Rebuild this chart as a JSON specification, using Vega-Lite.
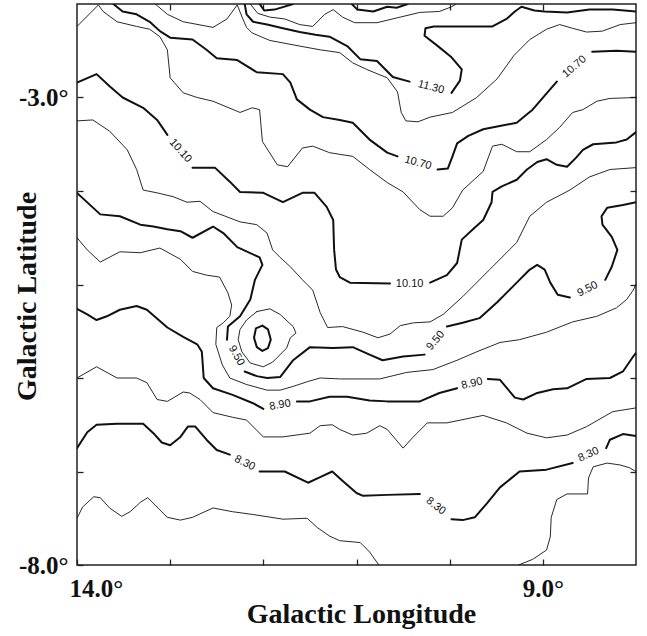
{
"$schema": "https://vega.github.io/schema/vega-lite/v6.json",
"width": 559, "height": 561,
"autosize": {"type": "none"},
"padding": {"left": 77, "top": 4, "right": 11, "bottom": 71},
"background": "white",
"config": {
  "view": {"stroke": "#222", "strokeWidth": 1.5},
  "axis": {"grid": false, "domain": false, "tickColor": "#222", "tickSize": -6, "tickWidth": 1.3}
},
"data": {"values": [
{"s":"A","i":0,"x":14.00,"y":-7.50,"k":"minor"},{"s":"A","i":1,"x":13.94,"y":-7.38,"k":"minor"},{"s":"A","i":2,"x":13.82,"y":-7.27,"k":"minor"},{"s":"A","i":3,"x":13.75,"y":-7.28,"k":"minor"},{"s":"A","i":4,"x":13.65,"y":-7.39,"k":"minor"},{"s":"A","i":5,"x":13.52,"y":-7.48,"k":"minor"},{"s":"A","i":6,"x":13.43,"y":-7.43,"k":"minor"},{"s":"A","i":7,"x":13.32,"y":-7.33,"k":"minor"},{"s":"A","i":8,"x":13.24,"y":-7.28,"k":"minor"},{"s":"A","i":9,"x":13.14,"y":-7.38,"k":"minor"},{"s":"A","i":10,"x":13.03,"y":-7.49,"k":"minor"},{"s":"A","i":11,"x":12.89,"y":-7.52,"k":"minor"},{"s":"A","i":12,"x":12.76,"y":-7.49,"k":"minor"},{"s":"A","i":13,"x":12.54,"y":-7.39,"k":"minor"},{"s":"A","i":14,"x":12.33,"y":-7.43,"k":"minor"},{"s":"A","i":15,"x":12.11,"y":-7.46,"k":"minor"},{"s":"A","i":16,"x":11.79,"y":-7.51,"k":"minor"},{"s":"A","i":17,"x":11.53,"y":-7.50,"k":"minor"},{"s":"A","i":18,"x":11.42,"y":-7.60,"k":"minor"},{"s":"A","i":19,"x":11.29,"y":-7.69,"k":"minor"},{"s":"A","i":20,"x":11.18,"y":-7.74,"k":"minor"},{"s":"A","i":21,"x":10.96,"y":-7.76,"k":"minor"},{"s":"A","i":22,"x":10.86,"y":-7.86,"k":"minor"},{"s":"A","i":23,"x":10.76,"y":-8.00,"k":"minor"},
{"s":"B","i":0,"x":9.26,"y":-8.00,"k":"minor"},{"s":"B","i":1,"x":9.11,"y":-7.94,"k":"minor"},{"s":"B","i":2,"x":8.96,"y":-7.84,"k":"minor"},{"s":"B","i":3,"x":8.92,"y":-7.70,"k":"minor"},{"s":"B","i":4,"x":8.91,"y":-7.49,"k":"minor"},{"s":"B","i":5,"x":8.85,"y":-7.30,"k":"minor"},{"s":"B","i":6,"x":8.74,"y":-7.24,"k":"minor"},{"s":"B","i":7,"x":8.52,"y":-7.24,"k":"minor"},{"s":"B","i":8,"x":8.51,"y":-7.07,"k":"minor"},{"s":"B","i":9,"x":8.46,"y":-6.95,"k":"minor"},{"s":"B","i":10,"x":8.31,"y":-6.91,"k":"minor"},{"s":"B","i":11,"x":8.17,"y":-6.93,"k":"minor"},{"s":"B","i":12,"x":8.07,"y":-6.96,"k":"minor"},{"s":"B","i":13,"x":8.00,"y":-7.00,"k":"minor"},
{"s":"C1","i":0,"x":14.00,"y":-6.75,"k":"major"},{"s":"C1","i":1,"x":13.89,"y":-6.58,"k":"major"},{"s":"C1","i":2,"x":13.79,"y":-6.50,"k":"major"},{"s":"C1","i":3,"x":13.57,"y":-6.49,"k":"major"},{"s":"C1","i":4,"x":13.29,"y":-6.49,"k":"major"},{"s":"C1","i":5,"x":13.18,"y":-6.59,"k":"major"},{"s":"C1","i":6,"x":13.09,"y":-6.69,"k":"major"},{"s":"C1","i":7,"x":13.00,"y":-6.72,"k":"major"},{"s":"C1","i":8,"x":12.89,"y":-6.63,"k":"major"},{"s":"C1","i":9,"x":12.81,"y":-6.52,"k":"major"},{"s":"C1","i":10,"x":12.73,"y":-6.52,"k":"major"},{"s":"C1","i":11,"x":12.61,"y":-6.66,"k":"major"},{"s":"C1","i":12,"x":12.50,"y":-6.77,"k":"major"},{"s":"C1","i":13,"x":12.36,"y":-6.82,"k":"major"},
{"s":"C2","i":0,"x":12.04,"y":-7.00,"k":"major"},{"s":"C2","i":1,"x":11.77,"y":-7.00,"k":"major"},{"s":"C2","i":2,"x":11.52,"y":-7.12,"k":"major"},{"s":"C2","i":3,"x":11.39,"y":-7.06,"k":"major"},{"s":"C2","i":4,"x":11.26,"y":-7.00,"k":"major"},{"s":"C2","i":5,"x":11.16,"y":-7.09,"k":"major"},{"s":"C2","i":6,"x":11.00,"y":-7.23,"k":"major"},{"s":"C2","i":7,"x":10.93,"y":-7.26,"k":"major"},{"s":"C2","i":8,"x":10.67,"y":-7.25,"k":"major"},{"s":"C2","i":9,"x":10.32,"y":-7.24,"k":"major"},
{"s":"C3","i":0,"x":9.98,"y":-7.51,"k":"major"},{"s":"C3","i":1,"x":9.86,"y":-7.52,"k":"major"},{"s":"C3","i":2,"x":9.73,"y":-7.49,"k":"major"},{"s":"C3","i":3,"x":9.60,"y":-7.34,"k":"major"},{"s":"C3","i":4,"x":9.46,"y":-7.17,"k":"major"},{"s":"C3","i":5,"x":9.25,"y":-7.00,"k":"major"},{"s":"C3","i":6,"x":8.96,"y":-6.98,"k":"major"},{"s":"C3","i":7,"x":8.68,"y":-6.91,"k":"major"},
{"s":"C4","i":0,"x":8.32,"y":-6.75,"k":"major"},{"s":"C4","i":1,"x":8.28,"y":-6.66,"k":"major"},{"s":"C4","i":2,"x":8.14,"y":-6.60,"k":"major"},{"s":"C4","i":3,"x":8.00,"y":-6.62,"k":"major"},
{"s":"D","i":0,"x":14.00,"y":-6.00,"k":"minor"},{"s":"D","i":1,"x":13.79,"y":-5.88,"k":"minor"},{"s":"D","i":2,"x":13.57,"y":-6.00,"k":"minor"},{"s":"D","i":3,"x":13.36,"y":-6.00,"k":"minor"},{"s":"D","i":4,"x":13.25,"y":-6.05,"k":"minor"},{"s":"D","i":5,"x":13.14,"y":-6.23,"k":"minor"},{"s":"D","i":6,"x":13.03,"y":-6.25,"k":"minor"},{"s":"D","i":7,"x":12.86,"y":-6.15,"k":"minor"},{"s":"D","i":8,"x":12.79,"y":-6.16,"k":"minor"},{"s":"D","i":9,"x":12.68,"y":-6.23,"k":"minor"},{"s":"D","i":10,"x":12.54,"y":-6.37,"k":"minor"},{"s":"D","i":11,"x":12.33,"y":-6.42,"k":"minor"},{"s":"D","i":12,"x":12.18,"y":-6.45,"k":"minor"},{"s":"D","i":13,"x":12.00,"y":-6.63,"k":"minor"},{"s":"D","i":14,"x":11.79,"y":-6.63,"k":"minor"},{"s":"D","i":15,"x":11.50,"y":-6.59,"k":"minor"},{"s":"D","i":16,"x":11.39,"y":-6.51,"k":"minor"},{"s":"D","i":17,"x":11.26,"y":-6.50,"k":"minor"},{"s":"D","i":18,"x":11.18,"y":-6.55,"k":"minor"},{"s":"D","i":19,"x":11.04,"y":-6.61,"k":"minor"},{"s":"D","i":20,"x":10.89,"y":-6.59,"k":"minor"},{"s":"D","i":21,"x":10.75,"y":-6.51,"k":"minor"},{"s":"D","i":22,"x":10.67,"y":-6.55,"k":"minor"},{"s":"D","i":23,"x":10.50,"y":-6.75,"k":"minor"},{"s":"D","i":24,"x":10.39,"y":-6.63,"k":"minor"},{"s":"D","i":25,"x":10.24,"y":-6.48,"k":"minor"},{"s":"D","i":26,"x":10.03,"y":-6.48,"k":"minor"},{"s":"D","i":27,"x":9.64,"y":-6.40,"k":"minor"},{"s":"D","i":28,"x":9.39,"y":-6.48,"k":"minor"},{"s":"D","i":29,"x":9.17,"y":-6.59,"k":"minor"},{"s":"D","i":30,"x":8.96,"y":-6.64,"k":"minor"},{"s":"D","i":31,"x":8.74,"y":-6.61,"k":"minor"},{"s":"D","i":32,"x":8.53,"y":-6.52,"k":"minor"},{"s":"D","i":33,"x":8.25,"y":-6.36,"k":"minor"},{"s":"D","i":34,"x":8.00,"y":-6.32,"k":"minor"},
{"s":"E1","i":0,"x":14.00,"y":-5.26,"k":"major"},{"s":"E1","i":1,"x":13.89,"y":-5.32,"k":"major"},{"s":"E1","i":2,"x":13.79,"y":-5.38,"k":"major"},{"s":"E1","i":3,"x":13.68,"y":-5.34,"k":"major"},{"s":"E1","i":4,"x":13.54,"y":-5.27,"k":"major"},{"s":"E1","i":5,"x":13.36,"y":-5.23,"k":"major"},{"s":"E1","i":6,"x":13.25,"y":-5.27,"k":"major"},{"s":"E1","i":7,"x":13.03,"y":-5.46,"k":"major"},{"s":"E1","i":8,"x":12.86,"y":-5.56,"k":"major"},{"s":"E1","i":9,"x":12.71,"y":-5.64,"k":"major"},{"s":"E1","i":10,"x":12.66,"y":-5.72,"k":"major"},{"s":"E1","i":11,"x":12.64,"y":-6.00,"k":"major"},{"s":"E1","i":12,"x":12.54,"y":-6.11,"k":"major"},{"s":"E1","i":13,"x":12.33,"y":-6.18,"k":"major"},{"s":"E1","i":14,"x":12.11,"y":-6.27,"k":"major"},{"s":"E1","i":15,"x":12.00,"y":-6.33,"k":"major"},
{"s":"E2","i":0,"x":11.64,"y":-6.25,"k":"major"},{"s":"E2","i":1,"x":11.50,"y":-6.25,"k":"major"},{"s":"E2","i":2,"x":11.29,"y":-6.20,"k":"major"},{"s":"E2","i":3,"x":11.10,"y":-6.20,"k":"major"},{"s":"E2","i":4,"x":10.86,"y":-6.24,"k":"major"},{"s":"E2","i":5,"x":10.67,"y":-6.25,"k":"major"},{"s":"E2","i":6,"x":10.32,"y":-6.25,"k":"major"},{"s":"E2","i":7,"x":10.11,"y":-6.16,"k":"major"},{"s":"E2","i":8,"x":9.92,"y":-6.11,"k":"major"},
{"s":"E3","i":0,"x":9.59,"y":-6.01,"k":"major"},{"s":"E3","i":1,"x":9.46,"y":-6.02,"k":"major"},{"s":"E3","i":2,"x":9.30,"y":-6.21,"k":"major"},{"s":"E3","i":3,"x":9.21,"y":-6.23,"k":"major"},{"s":"E3","i":4,"x":9.06,"y":-6.16,"k":"major"},{"s":"E3","i":5,"x":8.89,"y":-6.12,"k":"major"},{"s":"E3","i":6,"x":8.74,"y":-6.11,"k":"major"},{"s":"E3","i":7,"x":8.53,"y":-6.01,"k":"major"},{"s":"E3","i":8,"x":8.28,"y":-6.00,"k":"major"},{"s":"E3","i":9,"x":8.14,"y":-5.93,"k":"major"},{"s":"E3","i":10,"x":8.03,"y":-5.77,"k":"major"},{"s":"E3","i":11,"x":8.00,"y":-5.73,"k":"major"},
{"s":"F","i":0,"x":14.00,"y":-4.50,"k":"minor"},{"s":"F","i":1,"x":13.89,"y":-4.63,"k":"minor"},{"s":"F","i":2,"x":13.75,"y":-4.76,"k":"minor"},{"s":"F","i":3,"x":13.54,"y":-4.65,"k":"minor"},{"s":"F","i":4,"x":13.32,"y":-4.66,"k":"minor"},{"s":"F","i":5,"x":13.11,"y":-4.61,"k":"minor"},{"s":"F","i":6,"x":12.89,"y":-4.73,"k":"minor"},{"s":"F","i":7,"x":12.76,"y":-4.86,"k":"minor"},{"s":"F","i":8,"x":12.61,"y":-4.90,"k":"minor"},{"s":"F","i":9,"x":12.47,"y":-4.92,"k":"minor"},{"s":"F","i":10,"x":12.38,"y":-5.09,"k":"minor"},{"s":"F","i":11,"x":12.34,"y":-5.22,"k":"minor"},{"s":"F","i":12,"x":12.36,"y":-5.34,"k":"minor"},{"s":"F","i":13,"x":12.43,"y":-5.41,"k":"minor"},{"s":"F","i":14,"x":12.50,"y":-5.46,"k":"minor"},{"s":"F","i":15,"x":12.51,"y":-5.64,"k":"minor"},{"s":"F","i":16,"x":12.44,"y":-5.86,"k":"minor"},{"s":"F","i":17,"x":12.36,"y":-6.00,"k":"minor"},{"s":"F","i":18,"x":12.18,"y":-6.07,"k":"minor"},{"s":"F","i":19,"x":11.96,"y":-6.13,"k":"minor"},{"s":"F","i":20,"x":11.82,"y":-6.13,"k":"minor"},{"s":"F","i":21,"x":11.68,"y":-6.09,"k":"minor"},{"s":"F","i":22,"x":11.53,"y":-6.04,"k":"minor"},{"s":"F","i":23,"x":11.39,"y":-6.00,"k":"minor"},{"s":"F","i":24,"x":11.18,"y":-6.01,"k":"minor"},{"s":"F","i":25,"x":10.75,"y":-6.01,"k":"minor"},{"s":"F","i":26,"x":10.46,"y":-5.94,"k":"minor"},{"s":"F","i":27,"x":10.18,"y":-5.91,"k":"minor"},{"s":"F","i":28,"x":9.92,"y":-5.81,"k":"minor"},{"s":"F","i":29,"x":9.71,"y":-5.72,"k":"minor"},{"s":"F","i":30,"x":9.46,"y":-5.62,"k":"minor"},{"s":"F","i":31,"x":9.25,"y":-5.59,"k":"minor"},{"s":"F","i":32,"x":8.96,"y":-5.51,"k":"minor"},{"s":"F","i":33,"x":8.68,"y":-5.40,"k":"minor"},{"s":"F","i":34,"x":8.42,"y":-5.34,"k":"minor"},{"s":"F","i":35,"x":8.21,"y":-5.25,"k":"minor"},{"s":"F","i":36,"x":8.10,"y":-5.16,"k":"minor"},{"s":"F","i":37,"x":8.03,"y":-5.06,"k":"minor"},{"s":"F","i":38,"x":8.00,"y":-5.00,"k":"minor"},
{"s":"G1","i":0,"x":14.00,"y":-4.02,"k":"major"},{"s":"G1","i":1,"x":13.75,"y":-4.25,"k":"major"},{"s":"G1","i":2,"x":13.54,"y":-4.27,"k":"major"},{"s":"G1","i":3,"x":13.32,"y":-4.36,"k":"major"},{"s":"G1","i":4,"x":13.18,"y":-4.38,"k":"major"},{"s":"G1","i":5,"x":13.03,"y":-4.41,"k":"major"},{"s":"G1","i":6,"x":12.89,"y":-4.43,"k":"major"},{"s":"G1","i":7,"x":12.76,"y":-4.50,"k":"major"},{"s":"G1","i":8,"x":12.54,"y":-4.38,"k":"major"},{"s":"G1","i":9,"x":12.43,"y":-4.45,"k":"major"},{"s":"G1","i":10,"x":12.28,"y":-4.60,"k":"major"},{"s":"G1","i":11,"x":12.04,"y":-4.71,"k":"major"},{"s":"G1","i":12,"x":12.01,"y":-4.79,"k":"major"},{"s":"G1","i":13,"x":12.09,"y":-4.95,"k":"major"},{"s":"G1","i":14,"x":12.14,"y":-5.16,"k":"major"},{"s":"G1","i":15,"x":12.25,"y":-5.34,"k":"major"},{"s":"G1","i":16,"x":12.38,"y":-5.45,"k":"major"},{"s":"G1","i":17,"x":12.39,"y":-5.59,"k":"major"},
{"s":"G2","i":0,"x":12.20,"y":-5.93,"k":"major"},{"s":"G2","i":1,"x":12.07,"y":-5.98,"k":"major"},{"s":"G2","i":2,"x":11.96,"y":-6.00,"k":"major"},{"s":"G2","i":3,"x":11.82,"y":-5.99,"k":"major"},{"s":"G2","i":4,"x":11.68,"y":-5.81,"k":"major"},{"s":"G2","i":5,"x":11.50,"y":-5.67,"k":"major"},{"s":"G2","i":6,"x":11.25,"y":-5.68,"k":"major"},{"s":"G2","i":7,"x":11.04,"y":-5.67,"k":"major"},{"s":"G2","i":8,"x":10.86,"y":-5.75,"k":"major"},{"s":"G2","i":9,"x":10.72,"y":-5.81,"k":"major"},{"s":"G2","i":10,"x":10.50,"y":-5.77,"k":"major"},{"s":"G2","i":11,"x":10.27,"y":-5.75,"k":"major"},
{"s":"G3","i":0,"x":10.03,"y":-5.45,"k":"major"},{"s":"G3","i":1,"x":9.86,"y":-5.41,"k":"major"},{"s":"G3","i":2,"x":9.68,"y":-5.36,"k":"major"},{"s":"G3","i":3,"x":9.49,"y":-5.19,"k":"major"},{"s":"G3","i":4,"x":9.39,"y":-5.09,"k":"major"},{"s":"G3","i":5,"x":9.28,"y":-4.98,"k":"major"},{"s":"G3","i":6,"x":9.14,"y":-4.84,"k":"major"},{"s":"G3","i":7,"x":9.06,"y":-4.79,"k":"major"},{"s":"G3","i":8,"x":8.98,"y":-4.84,"k":"major"},{"s":"G3","i":9,"x":8.92,"y":-4.98,"k":"major"},{"s":"G3","i":10,"x":8.84,"y":-5.11,"k":"major"},{"s":"G3","i":11,"x":8.71,"y":-5.14,"k":"major"},
{"s":"G4","i":0,"x":8.33,"y":-4.95,"k":"major"},{"s":"G4","i":1,"x":8.26,"y":-4.81,"k":"major"},{"s":"G4","i":2,"x":8.20,"y":-4.63,"k":"major"},{"s":"G4","i":3,"x":8.26,"y":-4.49,"k":"major"},{"s":"G4","i":4,"x":8.36,"y":-4.36,"k":"major"},{"s":"G4","i":5,"x":8.37,"y":-4.27,"k":"major"},{"s":"G4","i":6,"x":8.31,"y":-4.18,"k":"major"},{"s":"G4","i":7,"x":8.14,"y":-4.15,"k":"major"},{"s":"G4","i":8,"x":8.00,"y":-4.12,"k":"major"},
{"s":"H","i":0,"x":12.07,"y":-5.29,"k":"minor"},{"s":"H","i":1,"x":11.93,"y":-5.26,"k":"minor"},{"s":"H","i":2,"x":11.82,"y":-5.32,"k":"minor"},{"s":"H","i":3,"x":11.68,"y":-5.45,"k":"minor"},{"s":"H","i":4,"x":11.65,"y":-5.52,"k":"minor"},{"s":"H","i":5,"x":11.71,"y":-5.57,"k":"minor"},{"s":"H","i":6,"x":11.75,"y":-5.68,"k":"minor"},{"s":"H","i":7,"x":11.90,"y":-5.83,"k":"minor"},{"s":"H","i":8,"x":12.00,"y":-5.88,"k":"minor"},{"s":"H","i":9,"x":12.14,"y":-5.84,"k":"minor"},{"s":"H","i":10,"x":12.23,"y":-5.72,"k":"minor"},{"s":"H","i":11,"x":12.27,"y":-5.59,"k":"minor"},{"s":"H","i":12,"x":12.25,"y":-5.48,"k":"minor"},{"s":"H","i":13,"x":12.18,"y":-5.38,"k":"minor"},{"s":"H","i":14,"x":12.07,"y":-5.29,"k":"minor"},
{"s":"I","i":0,"x":12.01,"y":-5.44,"k":"major"},{"s":"I","i":1,"x":11.95,"y":-5.48,"k":"major"},{"s":"I","i":2,"x":11.92,"y":-5.59,"k":"major"},{"s":"I","i":3,"x":11.95,"y":-5.68,"k":"major"},{"s":"I","i":4,"x":12.01,"y":-5.71,"k":"major"},{"s":"I","i":5,"x":12.07,"y":-5.67,"k":"major"},{"s":"I","i":6,"x":12.10,"y":-5.57,"k":"major"},{"s":"I","i":7,"x":12.08,"y":-5.47,"k":"major"},{"s":"I","i":8,"x":12.01,"y":-5.44,"k":"major"},
{"s":"J","i":0,"x":14.00,"y":-3.25,"k":"minor"},{"s":"J","i":1,"x":13.83,"y":-3.24,"k":"minor"},{"s":"J","i":2,"x":13.65,"y":-3.36,"k":"minor"},{"s":"J","i":3,"x":13.46,"y":-3.56,"k":"minor"},{"s":"J","i":4,"x":13.36,"y":-3.77,"k":"minor"},{"s":"J","i":5,"x":13.29,"y":-3.99,"k":"minor"},{"s":"J","i":6,"x":13.14,"y":-4.02,"k":"minor"},{"s":"J","i":7,"x":12.97,"y":-4.06,"k":"minor"},{"s":"J","i":8,"x":12.82,"y":-4.12,"k":"minor"},{"s":"J","i":9,"x":12.68,"y":-4.11,"k":"minor"},{"s":"J","i":10,"x":12.54,"y":-4.22,"k":"minor"},{"s":"J","i":11,"x":12.25,"y":-4.33,"k":"minor"},{"s":"J","i":12,"x":12.07,"y":-4.36,"k":"minor"},{"s":"J","i":13,"x":11.96,"y":-4.45,"k":"minor"},{"s":"J","i":14,"x":11.90,"y":-4.63,"k":"minor"},{"s":"J","i":15,"x":11.82,"y":-4.71,"k":"minor"},{"s":"J","i":16,"x":11.71,"y":-4.81,"k":"minor"},{"s":"J","i":17,"x":11.58,"y":-4.95,"k":"minor"},{"s":"J","i":18,"x":11.47,"y":-5.06,"k":"minor"},{"s":"J","i":19,"x":11.39,"y":-5.30,"k":"minor"},{"s":"J","i":20,"x":11.31,"y":-5.46,"k":"minor"},{"s":"J","i":21,"x":11.15,"y":-5.45,"k":"minor"},{"s":"J","i":22,"x":10.93,"y":-5.51,"k":"minor"},{"s":"J","i":23,"x":10.77,"y":-5.57,"k":"minor"},{"s":"J","i":24,"x":10.64,"y":-5.53,"k":"minor"},{"s":"J","i":25,"x":10.53,"y":-5.44,"k":"minor"},{"s":"J","i":26,"x":10.39,"y":-5.41,"k":"minor"},{"s":"J","i":27,"x":10.21,"y":-5.40,"k":"minor"},{"s":"J","i":28,"x":10.07,"y":-5.32,"k":"minor"},{"s":"J","i":29,"x":9.86,"y":-5.13,"k":"minor"},{"s":"J","i":30,"x":9.57,"y":-4.84,"k":"minor"},{"s":"J","i":31,"x":9.28,"y":-4.55,"k":"minor"},{"s":"J","i":32,"x":9.14,"y":-4.27,"k":"minor"},{"s":"J","i":33,"x":8.96,"y":-4.12,"k":"minor"},{"s":"J","i":34,"x":8.71,"y":-3.99,"k":"minor"},{"s":"J","i":35,"x":8.50,"y":-3.85,"k":"minor"},{"s":"J","i":36,"x":8.28,"y":-3.77,"k":"minor"},{"s":"J","i":37,"x":8.00,"y":-3.75,"k":"minor"},
{"s":"K1","i":0,"x":14.00,"y":-2.84,"k":"major"},{"s":"K1","i":1,"x":13.79,"y":-2.75,"k":"major"},{"s":"K1","i":2,"x":13.65,"y":-2.88,"k":"major"},{"s":"K1","i":3,"x":13.51,"y":-3.00,"k":"major"},{"s":"K1","i":4,"x":13.29,"y":-3.11,"k":"major"},{"s":"K1","i":5,"x":13.14,"y":-3.24,"k":"major"},{"s":"K1","i":6,"x":13.03,"y":-3.40,"k":"major"},
{"s":"K2","i":0,"x":12.76,"y":-3.75,"k":"major"},{"s":"K2","i":1,"x":12.52,"y":-3.75,"k":"major"},{"s":"K2","i":2,"x":12.36,"y":-3.90,"k":"major"},{"s":"K2","i":3,"x":12.25,"y":-4.01,"k":"major"},{"s":"K2","i":4,"x":12.00,"y":-4.02,"k":"major"},{"s":"K2","i":5,"x":11.79,"y":-4.12,"k":"major"},{"s":"K2","i":6,"x":11.58,"y":-4.02,"k":"major"},{"s":"K2","i":7,"x":11.45,"y":-4.02,"k":"major"},{"s":"K2","i":8,"x":11.32,"y":-4.17,"k":"major"},{"s":"K2","i":9,"x":11.25,"y":-4.31,"k":"major"},{"s":"K2","i":10,"x":11.24,"y":-4.63,"k":"major"},{"s":"K2","i":11,"x":11.22,"y":-4.84,"k":"major"},{"s":"K2","i":12,"x":11.18,"y":-4.92,"k":"major"},{"s":"K2","i":13,"x":11.07,"y":-4.98,"k":"major"},{"s":"K2","i":14,"x":10.64,"y":-4.99,"k":"major"},
{"s":"K3","i":0,"x":10.21,"y":-4.98,"k":"major"},{"s":"K3","i":1,"x":10.03,"y":-4.90,"k":"major"},{"s":"K3","i":2,"x":9.92,"y":-4.77,"k":"major"},{"s":"K3","i":3,"x":9.87,"y":-4.52,"k":"major"},{"s":"K3","i":4,"x":9.75,"y":-4.41,"k":"major"},{"s":"K3","i":5,"x":9.64,"y":-4.31,"k":"major"},{"s":"K3","i":6,"x":9.55,"y":-4.12,"k":"major"},{"s":"K3","i":7,"x":9.54,"y":-4.01,"k":"major"},{"s":"K3","i":8,"x":9.44,"y":-3.95,"k":"major"},{"s":"K3","i":9,"x":9.28,"y":-3.88,"k":"major"},{"s":"K3","i":10,"x":9.17,"y":-3.77,"k":"major"},{"s":"K3","i":11,"x":9.06,"y":-3.69,"k":"major"},{"s":"K3","i":12,"x":8.96,"y":-3.66,"k":"major"},{"s":"K3","i":13,"x":8.85,"y":-3.72,"k":"major"},{"s":"K3","i":14,"x":8.74,"y":-3.74,"k":"major"},{"s":"K3","i":15,"x":8.64,"y":-3.64,"k":"major"},{"s":"K3","i":16,"x":8.57,"y":-3.56,"k":"major"},{"s":"K3","i":17,"x":8.46,"y":-3.50,"k":"major"},{"s":"K3","i":18,"x":8.21,"y":-3.48,"k":"major"},{"s":"K3","i":19,"x":8.10,"y":-3.45,"k":"major"},{"s":"K3","i":20,"x":8.00,"y":-3.37,"k":"major"},
{"s":"L","i":0,"x":14.00,"y":-2.24,"k":"minor"},{"s":"L","i":1,"x":13.77,"y":-2.01,"k":"minor"},{"s":"L","i":2,"x":13.72,"y":-2.08,"k":"minor"},{"s":"L","i":3,"x":13.57,"y":-2.19,"k":"minor"},{"s":"L","i":4,"x":13.36,"y":-2.24,"k":"minor"},{"s":"L","i":5,"x":13.22,"y":-2.27,"k":"minor"},{"s":"L","i":6,"x":13.11,"y":-2.35,"k":"minor"},{"s":"L","i":7,"x":13.03,"y":-2.49,"k":"minor"},{"s":"L","i":8,"x":13.00,"y":-2.79,"k":"minor"},{"s":"L","i":9,"x":12.86,"y":-2.95,"k":"minor"},{"s":"L","i":10,"x":12.71,"y":-3.00,"k":"minor"},{"s":"L","i":11,"x":12.54,"y":-3.04,"k":"minor"},{"s":"L","i":12,"x":12.25,"y":-3.16,"k":"minor"},{"s":"L","i":13,"x":12.12,"y":-3.11,"k":"minor"},{"s":"L","i":14,"x":12.04,"y":-3.13,"k":"minor"},{"s":"L","i":15,"x":12.01,"y":-3.47,"k":"minor"},{"s":"L","i":16,"x":11.85,"y":-3.72,"k":"minor"},{"s":"L","i":17,"x":11.74,"y":-3.74,"k":"minor"},{"s":"L","i":18,"x":11.58,"y":-3.54,"k":"minor"},{"s":"L","i":19,"x":11.47,"y":-3.52,"k":"minor"},{"s":"L","i":20,"x":11.29,"y":-3.59,"k":"minor"},{"s":"L","i":21,"x":11.04,"y":-3.63,"k":"minor"},{"s":"L","i":22,"x":10.86,"y":-3.77,"k":"minor"},{"s":"L","i":23,"x":10.67,"y":-3.91,"k":"minor"},{"s":"L","i":24,"x":10.50,"y":-4.01,"k":"minor"},{"s":"L","i":25,"x":10.32,"y":-4.20,"k":"minor"},{"s":"L","i":26,"x":10.21,"y":-4.27,"k":"minor"},{"s":"L","i":27,"x":10.07,"y":-4.27,"k":"minor"},{"s":"L","i":28,"x":9.97,"y":-4.18,"k":"minor"},{"s":"L","i":29,"x":9.86,"y":-3.99,"k":"minor"},{"s":"L","i":30,"x":9.64,"y":-3.79,"k":"minor"},{"s":"L","i":31,"x":9.54,"y":-3.52,"k":"minor"},{"s":"L","i":32,"x":9.44,"y":-3.50,"k":"minor"},{"s":"L","i":33,"x":9.28,"y":-3.58,"k":"minor"},{"s":"L","i":34,"x":9.14,"y":-3.58,"k":"minor"},{"s":"L","i":35,"x":8.96,"y":-3.45,"k":"minor"},{"s":"L","i":36,"x":8.82,"y":-3.32,"k":"minor"},{"s":"L","i":37,"x":8.68,"y":-3.16,"k":"minor"},{"s":"L","i":38,"x":8.57,"y":-3.13,"k":"minor"},{"s":"L","i":39,"x":8.42,"y":-3.04,"k":"minor"},{"s":"L","i":40,"x":8.28,"y":-3.01,"k":"minor"},{"s":"L","i":41,"x":8.00,"y":-3.00,"k":"minor"},
{"s":"M1","i":0,"x":13.61,"y":-2.00,"k":"major"},{"s":"M1","i":1,"x":13.51,"y":-2.08,"k":"major"},{"s":"M1","i":2,"x":13.36,"y":-2.11,"k":"major"},{"s":"M1","i":3,"x":13.22,"y":-2.19,"k":"major"},{"s":"M1","i":4,"x":13.11,"y":-2.29,"k":"major"},{"s":"M1","i":5,"x":13.00,"y":-2.36,"k":"major"},{"s":"M1","i":6,"x":12.76,"y":-2.38,"k":"major"},{"s":"M1","i":7,"x":12.61,"y":-2.49,"k":"major"},{"s":"M1","i":8,"x":12.50,"y":-2.58,"k":"major"},{"s":"M1","i":9,"x":12.28,"y":-2.60,"k":"major"},{"s":"M1","i":10,"x":12.07,"y":-2.73,"k":"major"},{"s":"M1","i":11,"x":11.79,"y":-2.75,"k":"major"},{"s":"M1","i":12,"x":11.71,"y":-2.84,"k":"major"},{"s":"M1","i":13,"x":11.64,"y":-3.02,"k":"major"},{"s":"M1","i":14,"x":11.50,"y":-3.13,"k":"major"},{"s":"M1","i":15,"x":11.36,"y":-3.21,"k":"major"},{"s":"M1","i":16,"x":11.18,"y":-3.24,"k":"major"},{"s":"M1","i":17,"x":11.04,"y":-3.27,"k":"major"},{"s":"M1","i":18,"x":10.86,"y":-3.45,"k":"major"},{"s":"M1","i":19,"x":10.67,"y":-3.59,"k":"major"},{"s":"M1","i":20,"x":10.56,"y":-3.63,"k":"major"},
{"s":"M2","i":0,"x":10.13,"y":-3.77,"k":"major"},{"s":"M2","i":1,"x":10.02,"y":-3.76,"k":"major"},{"s":"M2","i":2,"x":9.97,"y":-3.63,"k":"major"},{"s":"M2","i":3,"x":9.92,"y":-3.49,"k":"major"},{"s":"M2","i":4,"x":9.80,"y":-3.41,"k":"major"},{"s":"M2","i":5,"x":9.64,"y":-3.34,"k":"major"},{"s":"M2","i":6,"x":9.49,"y":-3.31,"k":"major"},{"s":"M2","i":7,"x":9.28,"y":-3.27,"k":"major"},{"s":"M2","i":8,"x":9.17,"y":-3.18,"k":"major"},{"s":"M2","i":9,"x":9.11,"y":-3.13,"k":"major"},{"s":"M2","i":10,"x":8.85,"y":-2.83,"k":"major"},
{"s":"M3","i":0,"x":8.47,"y":-2.51,"k":"major"},{"s":"M3","i":1,"x":8.21,"y":-2.50,"k":"major"},{"s":"M3","i":2,"x":8.00,"y":-2.51,"k":"major"},
{"s":"N","i":0,"x":13.16,"y":-2.00,"k":"minor"},{"s":"N","i":1,"x":13.03,"y":-2.11,"k":"minor"},{"s":"N","i":2,"x":12.86,"y":-2.19,"k":"minor"},{"s":"N","i":3,"x":12.54,"y":-2.25,"k":"minor"},{"s":"N","i":4,"x":12.39,"y":-2.16,"k":"minor"},{"s":"N","i":5,"x":12.28,"y":-2.01,"k":"minor"},{"s":"N","i":6,"x":12.22,"y":-2.16,"k":"minor"},{"s":"N","i":7,"x":12.18,"y":-2.25,"k":"minor"},{"s":"N","i":8,"x":12.12,"y":-2.31,"k":"minor"},{"s":"N","i":9,"x":11.93,"y":-2.39,"k":"minor"},{"s":"N","i":10,"x":11.61,"y":-2.45,"k":"minor"},{"s":"N","i":11,"x":11.39,"y":-2.49,"k":"minor"},{"s":"N","i":12,"x":11.18,"y":-2.52,"k":"minor"},{"s":"N","i":13,"x":11.04,"y":-2.63,"k":"minor"},{"s":"N","i":14,"x":10.89,"y":-2.70,"k":"minor"},{"s":"N","i":15,"x":10.67,"y":-2.79,"k":"minor"},{"s":"N","i":16,"x":10.56,"y":-2.94,"k":"minor"},{"s":"N","i":17,"x":10.52,"y":-3.16,"k":"minor"},{"s":"N","i":18,"x":10.47,"y":-3.25,"k":"minor"},{"s":"N","i":19,"x":10.34,"y":-3.26,"k":"minor"},{"s":"N","i":20,"x":10.21,"y":-3.21,"k":"minor"},{"s":"N","i":21,"x":9.97,"y":-3.16,"k":"minor"},{"s":"N","i":22,"x":9.71,"y":-3.00,"k":"minor"},{"s":"N","i":23,"x":9.49,"y":-2.80,"k":"minor"},{"s":"N","i":24,"x":9.31,"y":-2.55,"k":"minor"},{"s":"N","i":25,"x":9.14,"y":-2.38,"k":"minor"},{"s":"N","i":26,"x":8.96,"y":-2.27,"k":"minor"},{"s":"N","i":27,"x":8.82,"y":-2.22,"k":"minor"},{"s":"N","i":28,"x":8.68,"y":-2.26,"k":"minor"},{"s":"N","i":29,"x":8.53,"y":-2.30,"k":"minor"},{"s":"N","i":30,"x":8.36,"y":-2.29,"k":"minor"},{"s":"N","i":31,"x":8.17,"y":-2.22,"k":"minor"},{"s":"N","i":32,"x":8.00,"y":-2.20,"k":"minor"},
{"s":"O1","i":0,"x":12.20,"y":-2.00,"k":"major"},{"s":"O1","i":1,"x":12.18,"y":-2.11,"k":"major"},{"s":"O1","i":2,"x":12.11,"y":-2.19,"k":"major"},{"s":"O1","i":3,"x":11.96,"y":-2.22,"k":"major"},{"s":"O1","i":4,"x":11.79,"y":-2.26,"k":"major"},{"s":"O1","i":5,"x":11.61,"y":-2.30,"k":"major"},{"s":"O1","i":6,"x":11.44,"y":-2.33,"k":"major"},{"s":"O1","i":7,"x":11.29,"y":-2.35,"k":"major"},{"s":"O1","i":8,"x":11.10,"y":-2.45,"k":"major"},{"s":"O1","i":9,"x":10.96,"y":-2.59,"k":"major"},{"s":"O1","i":10,"x":10.78,"y":-2.61,"k":"major"},{"s":"O1","i":11,"x":10.61,"y":-2.78,"k":"major"},{"s":"O1","i":12,"x":10.43,"y":-2.83,"k":"major"},
{"s":"O2","i":0,"x":9.98,"y":-2.95,"k":"major"},{"s":"O2","i":1,"x":9.89,"y":-2.82,"k":"major"},{"s":"O2","i":2,"x":9.87,"y":-2.70,"k":"major"},{"s":"O2","i":3,"x":9.98,"y":-2.57,"k":"major"},{"s":"O2","i":4,"x":10.14,"y":-2.44,"k":"major"},{"s":"O2","i":5,"x":10.27,"y":-2.34,"k":"major"},{"s":"O2","i":6,"x":10.26,"y":-2.26,"k":"major"},{"s":"O2","i":7,"x":10.17,"y":-2.24,"k":"major"},{"s":"O2","i":8,"x":9.94,"y":-2.24,"k":"major"},{"s":"O2","i":9,"x":9.75,"y":-2.24,"k":"major"},{"s":"O2","i":10,"x":9.54,"y":-2.24,"k":"major"},{"s":"O2","i":11,"x":9.39,"y":-2.16,"k":"major"},{"s":"O2","i":12,"x":9.30,"y":-2.08,"k":"major"},{"s":"O2","i":13,"x":9.23,"y":-2.03,"k":"major"},{"s":"O2","i":14,"x":9.09,"y":-2.07,"k":"major"},{"s":"O2","i":15,"x":8.98,"y":-2.08,"k":"major"},{"s":"O2","i":16,"x":8.74,"y":-2.09,"k":"major"},{"s":"O2","i":17,"x":8.50,"y":-2.06,"k":"major"},{"s":"O2","i":18,"x":8.25,"y":-2.06,"k":"major"},{"s":"O2","i":19,"x":8.00,"y":-2.08,"k":"major"},
{"s":"P","i":0,"x":12.14,"y":-2.00,"k":"minor"},{"s":"P","i":1,"x":12.06,"y":-2.10,"k":"minor"},{"s":"P","i":2,"x":11.93,"y":-2.14,"k":"minor"},{"s":"P","i":3,"x":11.77,"y":-2.16,"k":"minor"},{"s":"P","i":4,"x":11.61,"y":-2.22,"k":"minor"},{"s":"P","i":5,"x":11.47,"y":-2.24,"k":"minor"},{"s":"P","i":6,"x":11.34,"y":-2.11,"k":"minor"},{"s":"P","i":7,"x":11.25,"y":-2.06,"k":"minor"},{"s":"P","i":8,"x":11.15,"y":-2.14,"k":"minor"},{"s":"P","i":9,"x":11.02,"y":-2.20,"k":"minor"},{"s":"P","i":10,"x":10.78,"y":-2.20,"k":"minor"},{"s":"P","i":11,"x":10.53,"y":-2.14,"k":"minor"},{"s":"P","i":12,"x":10.32,"y":-2.09,"k":"minor"},{"s":"P","i":13,"x":10.11,"y":-2.08,"k":"minor"},{"s":"P","i":14,"x":9.98,"y":-2.03,"k":"minor"},{"s":"P","i":15,"x":9.93,"y":-2.00,"k":"minor"},
{"s":"Q","i":0,"x":12.04,"y":-2.00,"k":"major"},{"s":"Q","i":1,"x":11.99,"y":-2.07,"k":"major"},{"s":"Q","i":2,"x":11.88,"y":-2.06,"k":"major"},{"s":"Q","i":3,"x":11.68,"y":-2.00,"k":"major"},
{"s":"R","i":0,"x":11.05,"y":-2.00,"k":"major"},{"s":"R","i":1,"x":10.99,"y":-2.06,"k":"major"},{"s":"R","i":2,"x":10.82,"y":-2.08,"k":"major"},{"s":"R","i":3,"x":10.67,"y":-2.03,"k":"major"},{"s":"R","i":4,"x":10.57,"y":-2.04,"k":"major"},{"s":"R","i":5,"x":10.45,"y":-2.00,"k":"major"}
]},
"layer": [
{
  "mark": {"type": "line", "color": "#111", "strokeJoin": "round", "strokeCap": "round", "clip": true},
  "encoding": {
    "x": {"field": "x", "type": "quantitative", "scale": {"domain": [8, 14], "reverse": true, "nice": false, "zero": false},
      "axis": {"values": [14, 13, 12, 11, 10, 9], "labelExpr": "datum.value == 14 ? '14.0°' : datum.value == 9 ? '9.0°' : ''",
        "labelFont": "Liberation Serif", "labelFontWeight": "bold", "labelFontSize": 25, "labelColor": "#111",
        "labelBaseline": "alphabetic", "labelPadding": 37, "labelFlush": true, "labelFlushOffset": 8, "labelOverlap": false,
        "title": "Galactic Longitude", "titleFont": "Liberation Serif", "titleFontWeight": "bold", "titleFontSize": 28, "titleColor": "#111",
        "titleBaseline": "alphabetic", "titleY": 57, "titleX": 284}},
    "y": {"field": "y", "type": "quantitative", "scale": {"domain": [-8, -2], "nice": false, "zero": false},
      "axis": {"values": [-8, -7, -6, -5, -4, -3], "labelExpr": "datum.value == -3 ? '-3.0°' : datum.value == -8 ? '-8.0°' : ''",
        "labelFont": "Liberation Serif", "labelFontWeight": "bold", "labelFontSize": 25, "labelColor": "#111",
        "labelPadding": 15, "labelFlush": false, "labelOverlap": false,
        "title": "Galactic Latitude", "titleFont": "Liberation Serif", "titleFontWeight": "bold", "titleFontSize": 28, "titleColor": "#111",
        "titleBaseline": "alphabetic", "titleAngle": -90, "titleX": -42, "titleY": 292, "titleAlign": "center"}},
    "detail": {"field": "s"},
    "order": {"field": "i", "type": "quantitative"},
    "strokeWidth": {"field": "k", "type": "nominal", "scale": {"domain": ["major", "minor"], "range": [2, 0.9]}, "legend": null}
  }
},
{
  "data": {"values": [{"x": 10.20, "y": -2.89, "t": "11.30"}]},
  "mark": {"type": "text", "angle": 15, "font": "Liberation Sans", "fontSize": 11, "color": "#111", "align": "center", "baseline": "middle"},
  "encoding": {
    "x": {"field": "x", "type": "quantitative", "scale": {"domain": [8, 14], "reverse": true, "nice": false, "zero": false},
      "axis": {"orient": "top", "values": [13, 12, 11, 10, 9], "labels": false, "title": null}},
    "y": {"field": "y", "type": "quantitative", "scale": {"domain": [-8, -2], "nice": false, "zero": false},
      "axis": {"orient": "right", "values": [-7, -6, -5, -4, -3], "labels": false, "title": null}},
    "text": {"field": "t"}
  }
},
{"data": {"values": [{"x": 10.34, "y": -3.70, "t": "10.70"}]}, "mark": {"type": "text", "angle": 15, "font": "Liberation Sans", "fontSize": 11, "color": "#111"},
  "encoding": {"x": {"field": "x", "type": "quantitative", "scale": {"domain": [8, 14], "reverse": true, "nice": false, "zero": false}, "axis": null}, "y": {"field": "y", "type": "quantitative", "scale": {"domain": [-8, -2], "nice": false, "zero": false}, "axis": null}, "text": {"field": "t"}}},
{"data": {"values": [{"x": 8.66, "y": -2.67, "t": "10.70"}]}, "mark": {"type": "text", "angle": -41, "font": "Liberation Sans", "fontSize": 11, "color": "#111"},
  "encoding": {"x": {"field": "x", "type": "quantitative", "scale": {"domain": [8, 14], "reverse": true, "nice": false, "zero": false}, "axis": null}, "y": {"field": "y", "type": "quantitative", "scale": {"domain": [-8, -2], "nice": false, "zero": false}, "axis": null}, "text": {"field": "t"}}},
{"data": {"values": [{"x": 12.89, "y": -3.57, "t": "10.10"}]}, "mark": {"type": "text", "angle": 48, "font": "Liberation Sans", "fontSize": 11, "color": "#111"},
  "encoding": {"x": {"field": "x", "type": "quantitative", "scale": {"domain": [8, 14], "reverse": true, "nice": false, "zero": false}, "axis": null}, "y": {"field": "y", "type": "quantitative", "scale": {"domain": [-8, -2], "nice": false, "zero": false}, "axis": null}, "text": {"field": "t"}}},
{"data": {"values": [{"x": 10.43, "y": -4.99, "t": "10.10"}]}, "mark": {"type": "text", "angle": 0, "font": "Liberation Sans", "fontSize": 11, "color": "#111"},
  "encoding": {"x": {"field": "x", "type": "quantitative", "scale": {"domain": [8, 14], "reverse": true, "nice": false, "zero": false}, "axis": null}, "y": {"field": "y", "type": "quantitative", "scale": {"domain": [-8, -2], "nice": false, "zero": false}, "axis": null}, "text": {"field": "t"}}},
{"data": {"values": [{"x": 8.52, "y": -5.05, "t": "9.50"}]}, "mark": {"type": "text", "angle": -27, "font": "Liberation Sans", "fontSize": 11, "color": "#111"},
  "encoding": {"x": {"field": "x", "type": "quantitative", "scale": {"domain": [8, 14], "reverse": true, "nice": false, "zero": false}, "axis": null}, "y": {"field": "y", "type": "quantitative", "scale": {"domain": [-8, -2], "nice": false, "zero": false}, "axis": null}, "text": {"field": "t"}}},
{"data": {"values": [{"x": 10.15, "y": -5.60, "t": "9.50"}]}, "mark": {"type": "text", "angle": -50, "font": "Liberation Sans", "fontSize": 11, "color": "#111"},
  "encoding": {"x": {"field": "x", "type": "quantitative", "scale": {"domain": [8, 14], "reverse": true, "nice": false, "zero": false}, "axis": null}, "y": {"field": "y", "type": "quantitative", "scale": {"domain": [-8, -2], "nice": false, "zero": false}, "axis": null}, "text": {"field": "t"}}},
{"data": {"values": [{"x": 12.29, "y": -5.76, "t": "9.50"}]}, "mark": {"type": "text", "angle": 61, "font": "Liberation Sans", "fontSize": 11, "color": "#111"},
  "encoding": {"x": {"field": "x", "type": "quantitative", "scale": {"domain": [8, 14], "reverse": true, "nice": false, "zero": false}, "axis": null}, "y": {"field": "y", "type": "quantitative", "scale": {"domain": [-8, -2], "nice": false, "zero": false}, "axis": null}, "text": {"field": "t"}}},
{"data": {"values": [{"x": 11.82, "y": -6.29, "t": "8.90"}]}, "mark": {"type": "text", "angle": -10, "font": "Liberation Sans", "fontSize": 11, "color": "#111"},
  "encoding": {"x": {"field": "x", "type": "quantitative", "scale": {"domain": [8, 14], "reverse": true, "nice": false, "zero": false}, "axis": null}, "y": {"field": "y", "type": "quantitative", "scale": {"domain": [-8, -2], "nice": false, "zero": false}, "axis": null}, "text": {"field": "t"}}},
{"data": {"values": [{"x": 9.76, "y": -6.06, "t": "8.90"}]}, "mark": {"type": "text", "angle": -14, "font": "Liberation Sans", "fontSize": 11, "color": "#111"},
  "encoding": {"x": {"field": "x", "type": "quantitative", "scale": {"domain": [8, 14], "reverse": true, "nice": false, "zero": false}, "axis": null}, "y": {"field": "y", "type": "quantitative", "scale": {"domain": [-8, -2], "nice": false, "zero": false}, "axis": null}, "text": {"field": "t"}}},
{"data": {"values": [{"x": 12.20, "y": -6.91, "t": "8.30"}]}, "mark": {"type": "text", "angle": 27, "font": "Liberation Sans", "fontSize": 11, "color": "#111"},
  "encoding": {"x": {"field": "x", "type": "quantitative", "scale": {"domain": [8, 14], "reverse": true, "nice": false, "zero": false}, "axis": null}, "y": {"field": "y", "type": "quantitative", "scale": {"domain": [-8, -2], "nice": false, "zero": false}, "axis": null}, "text": {"field": "t"}}},
{"data": {"values": [{"x": 10.15, "y": -7.37, "t": "8.30"}]}, "mark": {"type": "text", "angle": 38, "font": "Liberation Sans", "fontSize": 11, "color": "#111"},
  "encoding": {"x": {"field": "x", "type": "quantitative", "scale": {"domain": [8, 14], "reverse": true, "nice": false, "zero": false}, "axis": null}, "y": {"field": "y", "type": "quantitative", "scale": {"domain": [-8, -2], "nice": false, "zero": false}, "axis": null}, "text": {"field": "t"}}},
{"data": {"values": [{"x": 8.51, "y": -6.82, "t": "8.30"}]}, "mark": {"type": "text", "angle": -24, "font": "Liberation Sans", "fontSize": 11, "color": "#111"},
  "encoding": {"x": {"field": "x", "type": "quantitative", "scale": {"domain": [8, 14], "reverse": true, "nice": false, "zero": false}, "axis": null}, "y": {"field": "y", "type": "quantitative", "scale": {"domain": [-8, -2], "nice": false, "zero": false}, "axis": null}, "text": {"field": "t"}}}
],
"resolve": {"axis": {"x": "independent", "y": "independent"}}
}
